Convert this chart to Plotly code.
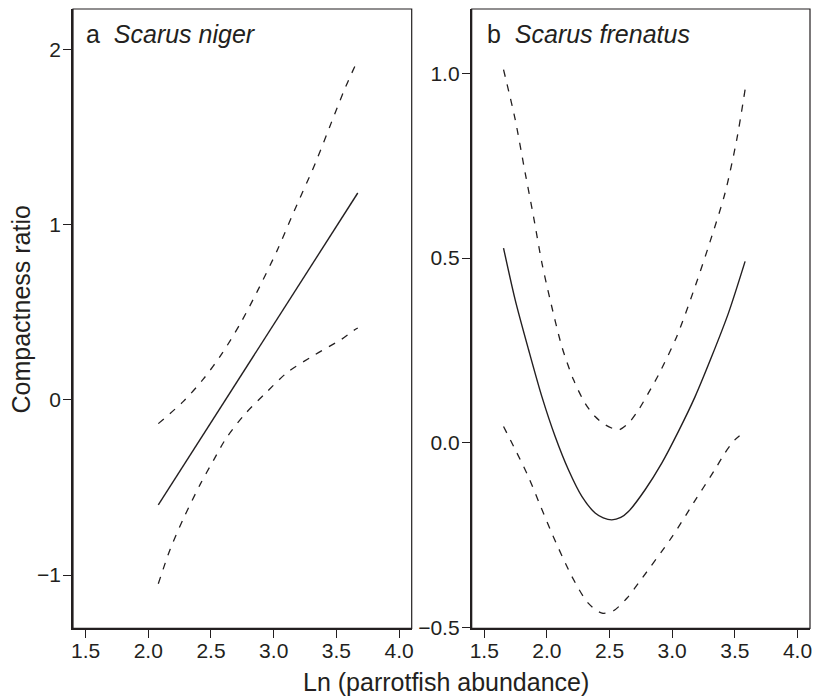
import plotly.graph_objects as go

# ---------------- data ----------------
# Panel a: Scarus niger
a_fit_x = [2.08, 3.67]
a_fit_y = [-0.60, 1.18]
a_up_x = [2.08, 2.28, 2.44, 2.59, 2.74, 2.87, 3.03, 3.165, 3.33, 3.46, 3.57, 3.67]
a_up_y = [-0.136, -0.009, 0.119, 0.266, 0.443, 0.62, 0.856, 1.08, 1.347, 1.583, 1.78, 1.939]
a_lo_x = [2.08, 2.174, 2.281, 2.415, 2.522, 2.616, 2.764, 2.938, 3.111, 3.326, 3.54, 3.634, 3.67]
a_lo_y = [-1.05, -0.854, -0.677, -0.481, -0.343, -0.225, -0.087, 0.04, 0.158, 0.256, 0.345, 0.394, 0.41]

# Panel b: Scarus frenatus
b_fit_x = [1.654, 1.747, 1.854, 1.96, 2.066, 2.172, 2.279, 2.385, 2.45, 2.518, 2.59, 2.651, 2.784,
           2.917, 3.05, 3.183, 3.316, 3.449, 3.582]
b_fit_y = [0.527, 0.387, 0.252, 0.125, 0.017, -0.073, -0.145, -0.19, -0.203, -0.2085, -0.202,
           -0.186, -0.127, -0.055, 0.031, 0.125, 0.234, 0.351, 0.491]
b_up_x = [1.654, 1.747, 1.827, 1.893, 1.96, 2.026, 2.119, 2.212, 2.305, 2.385, 2.465, 2.572,
          2.651, 2.731, 2.811, 2.891, 3.037, 3.183, 3.303, 3.422, 3.515, 3.582]
b_up_y = [1.01, 0.875, 0.73, 0.613, 0.487, 0.387, 0.261, 0.171, 0.107, 0.071, 0.049, 0.035,
          0.053, 0.089, 0.135, 0.184, 0.288, 0.423, 0.545, 0.676, 0.82, 0.956]
b_lo_x = [1.654, 1.75, 1.85, 1.95, 2.04, 2.20, 2.33, 2.44, 2.53, 2.64, 2.73, 3.00, 3.17, 3.34,
          3.42, 3.50, 3.582]
b_lo_y = [0.044, -0.02, -0.09, -0.172, -0.245, -0.362, -0.434, -0.461, -0.455, -0.42, -0.38,
          -0.254, -0.163, -0.073, -0.028, 0.008, 0.031]

x_ticks = [1.5, 2.0, 2.5, 3.0, 3.5, 4.0]
a_y_ticks = [-1, 0, 1, 2]
b_y_ticks = [-0.5, 0.0, 0.5, 1.0]

panel_a_label = "a&nbsp;&nbsp;<i>Scarus niger</i>"
panel_b_label = "b&nbsp;&nbsp;<i>Scarus frenatus</i>"
x_title = "Ln (parrotfish abundance)"
y_title = "Compactness ratio"

# ---------------- styling ----------------
INK = "#231f20"
FONT = "Liberation Sans, Arial, Helvetica, sans-serif"
W, H = 814, 698

fig = go.Figure()

def add_lines(fx, fy, ux, uy, lx, ly, xa, ya):
    fig.add_trace(go.Scatter(x=fx, y=fy, mode="lines", xaxis=xa, yaxis=ya,
                             line=dict(color=INK, width=1.4, shape="spline", smoothing=0.8),
                             showlegend=False, hoverinfo="skip"))
    for xs, ys in ((ux, uy), (lx, ly)):
        fig.add_trace(go.Scatter(x=xs, y=ys, mode="lines", xaxis=xa, yaxis=ya,
                                 line=dict(color=INK, width=1.3, dash="7px,8px",
                                           shape="spline", smoothing=0.8),
                                 showlegend=False, hoverinfo="skip"))

add_lines(a_fit_x, a_fit_y, a_up_x, a_up_y, a_lo_x, a_lo_y, "x", "y")
add_lines(b_fit_x, b_fit_y, b_up_x, b_up_y, b_lo_x, b_lo_y, "x2", "y2")

yb, yt = 1 - 628.3 / H, 1 - 9 / H
ax_common = dict(showgrid=False, zeroline=False, showline=True, linewidth=1.8,
                 linecolor=INK, ticks="outside", ticklen=8, tickwidth=1.3,
                 tickcolor=INK, tickfont=dict(family=FONT, size=21, color=INK),
                 automargin=False)

fig.update_layout(
    width=W, height=H, paper_bgcolor="white", plot_bgcolor="white",
    margin=dict(l=0, r=0, t=0, b=0),
    xaxis=dict(domain=[73 / W, 411.7 / W], range=[1.4, 4.1], tickvals=x_ticks,
               tickformat=".1f", anchor="y", ticklabelstandoff=-5, **ax_common),
    yaxis=dict(domain=[yb, yt], range=[-1.304, 2.23], tickvals=a_y_ticks,
               tickformat="d", anchor="x", ticklabelstandoff=-2, **ax_common),
    xaxis2=dict(domain=[471.7 / W, 810 / W], range=[1.4, 4.1], tickvals=x_ticks,
                tickformat=".1f", anchor="y2", ticklabelstandoff=-5, **ax_common),
    yaxis2=dict(domain=[yb, yt], range=[-0.502, 1.174], tickvals=b_y_ticks,
                tickformat=".1f", anchor="x2", ticklabelstandoff=-2, **ax_common),
    shapes=[
        dict(type="rect", xref="x domain", yref="y domain", x0=0, x1=1, y0=0, y1=1,
             line=dict(color=INK, width=1.2)),
        dict(type="rect", xref="x2 domain", yref="y2 domain", x0=0, x1=1, y0=0, y1=1,
             line=dict(color=INK, width=1.2)),
    ],
    annotations=[
        dict(text=panel_a_label, xref="paper", yref="paper", x=84 / W, y=1 - 18 / H,
             xanchor="left", yanchor="top", showarrow=False,
             font=dict(family=FONT, size=25, color=INK)),
        dict(text=panel_b_label, xref="paper", yref="paper", x=485 / W, y=1 - 18 / H,
             xanchor="left", yanchor="top", showarrow=False,
             font=dict(family=FONT, size=25, color=INK)),
        dict(text=x_title, xref="paper", yref="paper", x=446 / W, y=1 - 682 / H,
             xanchor="center", yanchor="middle", showarrow=False,
             font=dict(family=FONT, size=25, color=INK)),
        dict(text=y_title, xref="paper", yref="paper", x=21 / W, y=1 - 309.5 / H,
             xanchor="center", yanchor="middle", textangle=-90, showarrow=False,
             font=dict(family=FONT, size=25, color=INK)),
    ],
)

fig.write_html("out.html", config={"displayModeBar": False},
               post_script="document.body.style.margin='0px';")
